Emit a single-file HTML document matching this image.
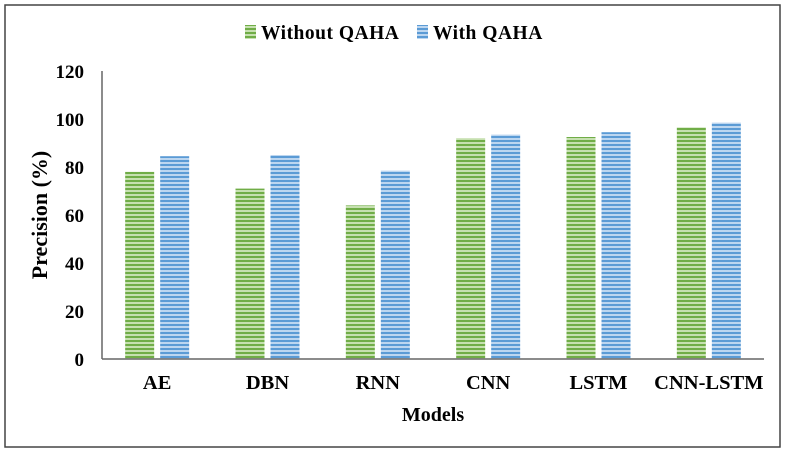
<!DOCTYPE html>
<html><head><meta charset="utf-8"><style>
body{margin:0;background:#fff}
svg text{font-family:"Liberation Serif",serif;font-weight:bold;fill:#000}
</style></head><body>
<svg width="785" height="452" viewBox="0 0 785 452">
<defs>
<pattern id="pg" width="4" height="4" patternUnits="userSpaceOnUse"><rect width="4" height="4" fill="#c6e0b0"/><rect width="4" height="2" fill="#70ad47"/></pattern>
<pattern id="pb" width="4" height="4" patternUnits="userSpaceOnUse"><rect width="4" height="4" fill="#bcd6f0"/><rect width="4" height="2" fill="#5b9bd5"/></pattern>
</defs>
<rect x="5" y="5" width="775" height="442" fill="#fff" stroke="#444" stroke-width="1.5"/>
<g id="legend">
<rect x="245" y="25" width="11" height="14" fill="url(#pg)"/>
<text x="261" y="39" font-size="19.5" letter-spacing="0.5">Without QAHA</text>
<rect x="417" y="25" width="11" height="14" fill="url(#pb)"/>
<text x="433" y="39" font-size="19.5" letter-spacing="0.5">With QAHA</text>
</g>
<g id="plot"></g>
<text transform="translate(47,215) rotate(-90)" text-anchor="middle" font-size="22">Precision (%)</text>
<text x="433" y="421" text-anchor="middle" font-size="20">Models</text>
</svg>
<script>
const categories=["AE","DBN","RNN","CNN","LSTM","CNN-LSTM"];
const withoutQAHA=[78,71,64,92,92.5,96.5];
const withQAHA=[84.5,85,78.5,93.5,94.5,98.5];
const yTicks=[0,20,40,60,80,100,120];
const NS="http://www.w3.org/2000/svg";
const g=document.getElementById('plot');
const L=102,R=764,T=71,B=359,yMax=120;
const y=v=>B-(B-T)*v/yMax;
const bw=(R-L)/categories.length;
const x=i=>L+bw*(i+0.5);
function mk(t,a){const e=document.createElementNS(NS,t);for(const k in a)e.setAttribute(k,a[k]);g.appendChild(e);return e;}
yTicks.forEach(t=>{
 const e=mk('text',{x:L-18,y:y(t)+7,'text-anchor':'end','font-size':19});
 e.textContent=t;
 
 
});
categories.forEach((c,i)=>{
 const w=29,gap=6;
 const b1=mk('rect',{x:x(i)-gap/2-w,y:y(withoutQAHA[i]),width:w,height:B-y(withoutQAHA[i]),fill:'url(#pg)'});
 
 
 const b2=mk('rect',{x:x(i)+gap/2,y:y(withQAHA[i]),width:w,height:B-y(withQAHA[i]),fill:'url(#pb)'});
 
 
 const t=mk('text',{x:x(i),y:B+30,'text-anchor':'middle','font-size':20.5});
 t.textContent=c;
 
 
});
const ya=mk('line',{x1:L,y1:T,x2:L,y2:B,stroke:'#666','stroke-width':1.5});


const xa=mk('line',{x1:L,y1:B,x2:R,y2:B,stroke:'#666','stroke-width':1.5});


</script>
</body></html>
